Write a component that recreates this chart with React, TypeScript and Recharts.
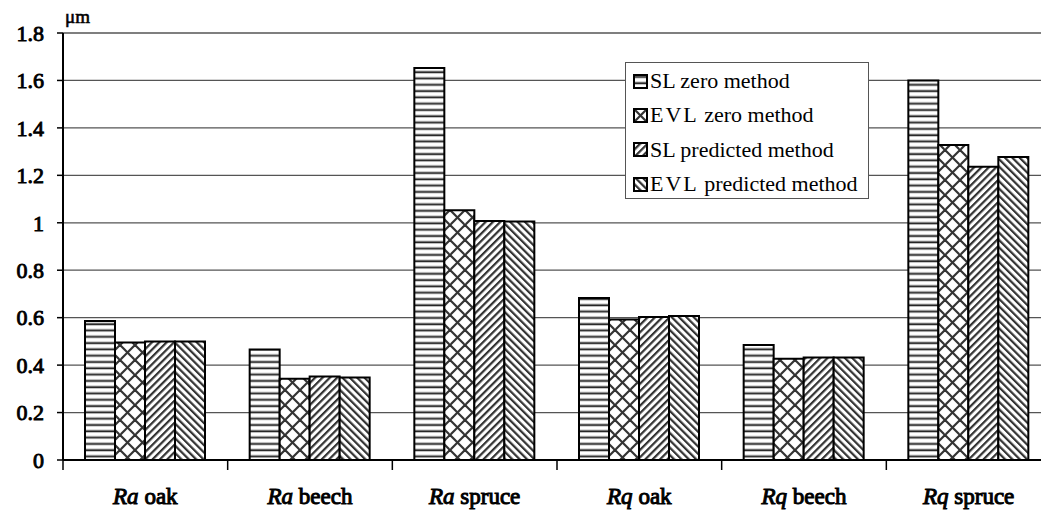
import React from 'react';
import { BarChart, Bar, XAxis, YAxis, CartesianGrid } from 'recharts';

const roughness = ['Ra', 'Ra', 'Ra', 'Rq', 'Rq', 'Rq'];
const species = ['oak', 'beech', 'spruce', 'oak', 'beech', 'spruce'];

const slZero = [0.586, 0.466, 1.652, 0.683, 0.485, 1.6];
const evlZero = [0.495, 0.343, 1.053, 0.592, 0.427, 1.328];
const slPredicted = [0.5, 0.352, 1.007, 0.603, 0.432, 1.236];
const evlPredicted = [0.5, 0.348, 1.005, 0.607, 0.432, 1.277];

const yTicks = [0, 0.2, 0.4, 0.6, 0.8, 1, 1.2, 1.4, 1.6, 1.8];

const seriesNames = ['SL zero method', 'EVL zero method', 'SL predicted method', 'EVL predicted method'];
const seriesKeys = ['slZero', 'evlZero', 'slPredicted', 'evlPredicted'];
const patternIds = ['pHoriz', 'pCross', 'pDiagUp', 'pDiagDown'];

const data = species.map((s, i) => ({
  name: roughness[i] + ' ' + s,
  prefix: roughness[i],
  species: s,
  slZero: slZero[i],
  evlZero: evlZero[i],
  slPredicted: slPredicted[i],
  evlPredicted: evlPredicted[i],
}));

const FONT = 'Liberation Serif, DejaVu Serif, serif';
const CHART_W = 1060;
const PLOT_LEFT = 63;
const PLOT_RIGHT = 1051;
const BAND = (PLOT_RIGHT - PLOT_LEFT) / data.length;

// faux bold: regular serif with a thin stroke
const boldText = { fontFamily: FONT, fontSize: 22, fill: '#000', stroke: '#000', strokeWidth: 0.9 };

const CategoryTick = (props: any) => {
  const { x, y, payload, index } = props;
  const i = payload?.index ?? index;
  const d = data[i];
  const isLast = i === data.length - 1;
  const axisY = y - 8;
  return (
    <g>
      <line x1={x - BAND / 2} x2={x - BAND / 2} y1={axisY} y2={axisY + 10} stroke="#000" strokeWidth={1.5} />
      {isLast && (
        <line x1={x + BAND / 2} x2={x + BAND / 2} y1={axisY} y2={axisY + 10} stroke="#000" strokeWidth={1.5} />
      )}
      <text x={x} y={axisY + 44} textAnchor="middle" fontFamily={FONT} style={{ ...boldText, fontSize: 23, strokeWidth: 1 }}>
        <tspan fontStyle="italic">{d.prefix}</tspan>
        <tspan> {d.species}</tspan>
      </text>
    </g>
  );
};

const LegendBox = () => (
  <div
    style={{
      position: 'absolute',
      left: 625,
      top: 62,
      border: '1px solid #555',
      background: '#fff',
      width: 244,
      height: 137,
      boxSizing: 'border-box',
      padding: '1px 0 0 7px',
      fontFamily: FONT,
      fontSize: 22,
      color: '#000',
    }}
  >
    {seriesNames.map((n, i) => (
      <div key={n} style={{ display: 'flex', alignItems: 'center', height: 34.3, whiteSpace: 'nowrap' }}>
        <svg width={15} height={15} style={{ marginRight: 2, flex: 'none' }}>
          <rect x={1} y={1} width={13} height={13} fill={`url(#${patternIds[i]})`} stroke="#000" strokeWidth={2} />
        </svg>
        <span>
          {n.startsWith('EVL') ? (
            <>
              <span style={{ letterSpacing: 2 }}>EVL</span>
              {n.slice(3)}
            </>
          ) : (
            n
          )}
        </span>
      </div>
    ))}
  </div>
);

export default function App() {
  return (
    <div style={{ position: 'absolute', left: 0, top: 0, width: 1041, height: 511, overflow: 'hidden', background: '#fff', fontFamily: FONT }}>
      <BarChart
        width={CHART_W}
        height={511}
        data={data}
        margin={{ top: 33, right: CHART_W - PLOT_RIGHT, left: 0, bottom: 0 }}
        barCategoryGap={22}
        barGap={0}
        style={{ fontFamily: FONT }}
      >
        <defs>
          <pattern id="pHoriz" patternUnits="userSpaceOnUse" width={6} height={6.3}>
            <rect width={6} height={6.3} fill="#fff" />
            <rect y={2} width={6} height={1.6} fill="#222" />
            <rect y={1.4} width={6} height={0.6} fill="#999" />
            <rect y={3.6} width={6} height={0.6} fill="#999" />
          </pattern>
          <pattern id="pCross" patternUnits="userSpaceOnUse" width={15} height={15}>
            <rect width={15} height={15} fill="#fff" />
            <line x1={0} y1={0} x2={15} y2={15} stroke="#333" strokeWidth={2.2} />
            <line x1={15} y1={0} x2={0} y2={15} stroke="#333" strokeWidth={2.2} />
          </pattern>
          <pattern id="pDiagUp" patternUnits="userSpaceOnUse" width={5.2} height={5.2} patternTransform="rotate(45)">
            <rect width={5.2} height={5.2} fill="#fff" />
            <rect width={2.2} height={5.2} fill="#333" />
          </pattern>
          <pattern id="pDiagDown" patternUnits="userSpaceOnUse" width={5.2} height={5.2} patternTransform="rotate(-45)">
            <rect width={5.2} height={5.2} fill="#fff" />
            <rect width={2.2} height={5.2} fill="#333" />
          </pattern>
        </defs>
        <CartesianGrid vertical={false} stroke="#555" strokeWidth={1.3} />
        <XAxis
          dataKey="name"
          interval={0}
          tickLine={false}
          tick={<CategoryTick />}
          height={51}
          axisLine={{ stroke: '#000', strokeWidth: 2 }}
        />
        <YAxis
          domain={[0, 1.8]}
          ticks={yTicks}
          width={PLOT_LEFT}
          tickSize={6}
          tickMargin={13}
          axisLine={{ stroke: '#000', strokeWidth: 2 }}
          tickLine={{ stroke: '#000', strokeWidth: 1.5 }}
          tick={{ style: boldText, fill: '#000', fontFamily: FONT }}
        />
        {seriesKeys.map((k, i) => (
          <Bar
            key={k}
            dataKey={k}
            name={seriesNames[i]}
            fill={`url(#${patternIds[i]})`}
            stroke="#000"
            strokeWidth={2}
            isAnimationActive={false}
          />
        ))}
      </BarChart>
      <div
        style={{
          position: 'absolute',
          left: 65,
          top: 6,
          fontFamily: FONT,
          fontSize: 19,
          WebkitTextStroke: '0.6px #000',
        }}
      >
        μm
      </div>
      <LegendBox />
    </div>
  );
}
